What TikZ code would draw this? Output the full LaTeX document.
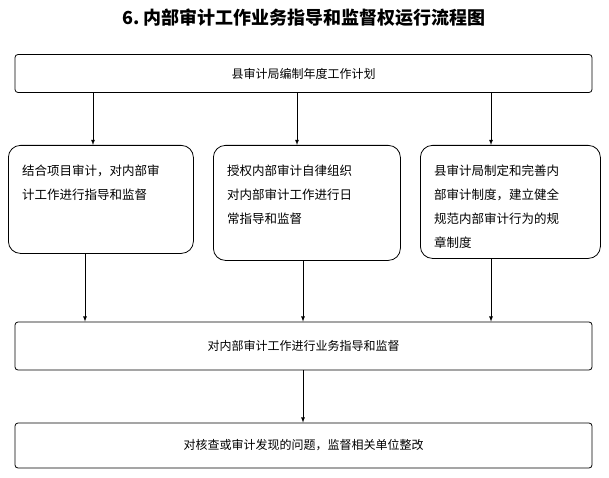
\documentclass[tikz,border=0pt]{standalone}
\usepackage{fontspec}
\newfontfamily\cjk{Noto Sans CJK SC}
\usetikzlibrary{positioning}
\tikzset{
  wide/.style={draw, thick, rounded corners=3pt, minimum width=577pt, minimum height=38pt, font=\cjk\fontsize{12}{14}\selectfont},
  step3/.style={draw, thick, rounded corners=12pt, anchor=north west},
  steptext/.style={anchor=north west, align=left, font=\cjk\fontsize{12.5}{24}\selectfont, inner sep=0pt},
  arr/.style={-latex, thick}
}
\begin{document}
\begin{tikzpicture}[x=1pt,y=1pt]
  \useasboundingbox (0,0) rectangle (609,477);
  % Title
  \node[font=\cjk\bfseries\fontsize{18}{20}\selectfont] (title) at (304,459) {6.\,内部审计工作业务指导和监督权运行流程图};

  % Plan
  \node[wide] (plan) at (303.5,403.5) {县审计局编制年度工作计划};

  % Three parallel ways
  \node[step3, minimum width=185pt, minimum height=108pt] (left) at (8,332) {};
  \node[steptext, below right=20pt and 14pt of left.north west, anchor=north west] (lefttext)
    {结合项目审计，对内部审\\计工作进行指导和监督};
  \node[step3, minimum width=187pt, minimum height=115pt] (mid) at (213,332) {};
  \node[steptext, below right=20pt and 14pt of mid.north west, anchor=north west] (midtext)
    {授权内部审计自律组织\\对内部审计工作进行日\\常指导和监督};
  \node[step3, minimum width=180pt, minimum height=113pt] (right) at (420,332) {};
  \node[steptext, below right=20pt and 14pt of right.north west, anchor=north west] (righttext)
    {县审计局制定和完善内\\部审计制度，建立健全\\规范内部审计行为的规\\章制度};

  % Guidance
  \node[wide, minimum height=48pt] (guide) at (303.5,131) {对内部审计工作进行业务指导和监督};
  \node[wide, minimum height=45pt] (fix) at (303.5,31.5) {对核查或审计发现的问题，监督相关单位整改};

  % Arrows
  \draw[arr] (plan.south -| 93,0) -- (left.north -| 93,0);
  \draw[arr] (plan.south -| 297,0) -- (mid.north -| 297,0);
  \draw[arr] (plan.south -| 491,0) -- (right.north -| 491,0);
  \draw[arr] (left.south -| 85,0) -- (guide.north -| 85,0);
  \draw[arr] (mid.south -| 303,0) -- (guide.north -| 303,0);
  \draw[arr] (right.south -| 491,0) -- (guide.north -| 491,0);
  \draw[arr] (guide.south -| 303,0) -- (fix.north -| 303,0);
\end{tikzpicture}
\end{document}
